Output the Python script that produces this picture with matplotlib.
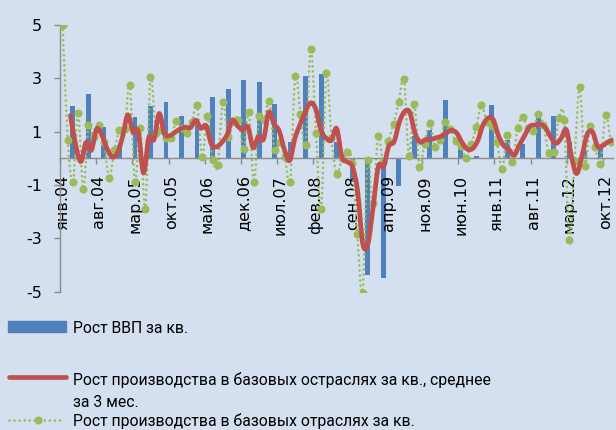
import numpy as np
import matplotlib
matplotlib.use('Agg')
import matplotlib.pyplot as plt
from matplotlib.path import Path
from matplotlib.patches import PathPatch, Rectangle
from matplotlib.lines import Line2D

BG = '#D4DFEF'
BLUE = '#4F81BD'
RED = '#C0504D'
GREEN = '#9BBB59'
AXIS = '#8C8C8C'

# monthly categories: Jan 2004 .. Nov 2012, labels every 7 months
tick_labels = ['янв.04', 'авг.04', 'мар.05', 'окт.05', 'май.06', 'дек.06',
               'июл.07', 'фев.08', 'сен.08', 'апр.09', 'ноя.09', 'июн.10',
               'янв.11', 'авг.11', 'мар.12', 'окт.12']
n_months = 107

# GDP growth, q/q, shown at quarter-end months (Mar-04 .. Sep-12)
gdp_q = [1.95, 2.43, 1.16, 0.5, 1.54, 1.98, 2.1, 1.57, 1.3, 2.3, 2.6, 2.95,
         2.88, 2.02, 0.6, 3.08, 3.15, 0.6, -0.9, -4.37, -4.5, -1.04, 0.85,
         1.06, 2.17, 0.65, 0.07, 2.0, 0.67, 0.53, 1.52, 1.6, 0.6, 0.3, 0.41]

# core sectors output growth, q/q (monthly points)
core = [5.0, 0.7, -0.9, 1.7, -1.15, 1.25, 0.8, 1.25, 0.6, -0.75, 0.3, 1.05,
        1.1, 2.75, -0.9, 1.15, -1.9, 3.05, 0.95, 1.05, 0.75, 0.75, 1.4, 1.15,
        0.95, 1.35, 2.0, 0.05, 1.6, -0.05, -0.25, 2.1, 0.8, 1.4, 1.45, 0.35,
        1.75, -0.9, 1.6, 1.45, 2.15, 0.3, 0.6, 0.05, -0.9, 3.1, 1.65, 0.5,
        4.1, 0.95, -1.9, 3.2, 0.75, -0.6, 0.0, 0.22, -0.16, -2.84, -5.05, -0.07,
        -1.67, 0.85, -0.09, 0.66, 1.3, 2.1, 2.99, 0.09, 2.04, -0.31, 0.55, 1.33,
        0.44, 0.7, 1.35, 1.1, 0.65, 0.47, 0.03, 0.53, 1.16, 2.0, 1.38, 1.23,
        0.6, -0.4, 0.86, -0.12, 1.13, 1.55, 1.13, 1.02, 1.65, 1.26, 0.2, 0.23,
        1.53, 1.45, -3.05, -0.1, 2.68, -0.27, 1.23, 0.44, -0.22, 1.63, 0.62]

# same, 3-month average (starts Mar-04)
core_3m = [1.6, 0.5, -0.12, 0.6, 0.3, 1.1, 0.88, 0.37, 0.05, 0.2, 0.82, 1.63,
           0.98, 1.0, -0.55, 0.77, 0.7, 1.68, 0.92, 0.85, 0.97, 1.1, 1.17, 1.15,
           1.43, 1.13, 1.22, 0.53, 0.43, 0.6, 0.88, 1.43, 1.22, 1.07, 1.18, 0.4,
           0.82, 0.72, 1.73, 1.3, 1.02, 0.32, -0.08, 0.75, 1.28, 1.75, 2.08, 1.85,
           1.05, 0.75, 0.68, 1.12, 0.05, -0.13, -0.3, -1.2, -3.2, -3.2, -1.8, -0.3,
           -0.3, 0.47, 0.62, 1.35, 1.75, 1.73, 0.95, 0.61, 0.7, 0.7, 0.77, 0.82,
           0.95, 1.05, 0.95, 0.6, 0.35, 0.36, 0.65, 1.23, 1.51, 1.45, 0.85, 0.48,
           0.33, 0.11, 0.5, 0.85, 1.2, 1.25, 1.28, 1.15, 0.8, 0.56, 0.75, 1.07,
           0.05, -0.57, 0.1, 0.9, 1.0, 0.45, 0.48, 0.62, 0.7]

legend_labels = ['Рост ВВП за кв.',
                 'Рост производства в базовых остраслях за кв., среднее',
                 'за 3 мес.',
                 'Рост производства в базовых отраслях за кв.']


def smooth_path(x, y):
    # excel-like smoothed line: bezier segments through every point
    pts = np.column_stack([np.asarray(x, float), np.asarray(y, float)])
    n = len(pts)
    verts = [pts[0]]
    codes = [Path.MOVETO]
    for i in range(n - 1):
        p0 = pts[max(i - 1, 0)]
        p1 = pts[i]
        p2 = pts[i + 1]
        p3 = pts[min(i + 2, n - 1)]
        verts += [p1 + (p2 - p0) / 6, p2 - (p3 - p1) / 6, p2]
        codes += [Path.CURVE4] * 3
    return Path(verts, codes)


plt.rcParams['font.family'] = 'DejaVu Sans'
plt.rcParams['axes.unicode_minus'] = False

W, H = 616, 430
fig = plt.figure(figsize=(W / 100, H / 100), dpi=100, facecolor=BG)
ax = fig.add_axes([60 / W, 1 - 291.7 / H, (613.3 - 60) / W, (291.7 - 25) / H])
ax.set_facecolor(BG)

months = np.arange(n_months)
q_months = months[2::3][:len(gdp_q)]
ax.bar(q_months, gdp_q, width=0.95, color=BLUE, zorder=1)

green_path = smooth_path(months, core)
ax.add_patch(PathPatch(green_path, fill=False, edgecolor=GREEN, lw=1.9,
                       linestyle=(0, (0.01, 1.9)), capstyle='round', zorder=2))
ax.plot(months, core, 'o', ms=4.8, color=GREEN, mec=GREEN, zorder=3)

ax.set_xlim(-0.5, n_months - 0.5)
ax.set_ylim(-5, 5)

# red series sits on tick marks of a second category axis
ax2 = ax.twiny()
ax2.set_xlim(0, n_months - 1)
ax2.axis('off')
red_path = smooth_path(months[2:2 + len(core_3m)], core_3m)
ax2.add_patch(PathPatch(red_path, fill=False, edgecolor=RED, lw=3.4,
                        capstyle='round', joinstyle='round'))

for s in ['top', 'right']:
    ax.spines[s].set_visible(False)
ax.spines['bottom'].set_position(('data', 0))
for s in ['left', 'bottom']:
    ax.spines[s].set_color(AXIS)
    ax.spines[s].set_linewidth(1.0)

ax.set_yticks([-5, -3, -1, 1, 3, 5])
ax.tick_params(axis='y', direction='out', length=4, width=1, color=AXIS,
               pad=9, labelsize=11.5)
ax.set_xticks(np.arange(-0.5, n_months - 1, 7))
ax.set_xticklabels([])
ax.set_xticks(np.arange(0, n_months, 7), minor=True)
ax.set_xticklabels(tick_labels, minor=True, rotation=90)
ax.tick_params(axis='x', which='major', direction='out', length=4, width=1,
               color=AXIS)
ax.tick_params(axis='x', which='minor', length=0, pad=12, labelsize=11.5)


def fx(x):
    return x / W


def fy(y):
    return 1 - y / H


# legend, drawn by hand
lfont = dict(family='Roboto', size=11.3, color='black', va='baseline')
fig.add_artist(Rectangle((fx(8), fy(332)), fx(58), 11 / H, color=BLUE,
                         transform=fig.transFigure))
fig.text(fx(73), fy(333), legend_labels[0], **lfont)

fig.add_artist(Line2D([fx(9), fx(66)], [fy(377), fy(377)], color=RED, lw=3.4,
                      solid_capstyle='round', transform=fig.transFigure))
fig.text(fx(73), fy(385), legend_labels[1], **lfont)
fig.text(fx(73), fy(407), legend_labels[2], **lfont)

fig.add_artist(Line2D([fx(9), fx(62)], [fy(420), fy(420)], color=GREEN, lw=1.9,
                      linestyle=(0, (0.01, 1.9)), dash_capstyle='round',
                      transform=fig.transFigure))
fig.add_artist(Line2D([fx(38)], [fy(420)], marker='o', ms=4.8, color=GREEN,
                      transform=fig.transFigure))
fig.text(fx(73), fy(426), legend_labels[3], **lfont)

fig.savefig('out.png', dpi=100, facecolor=BG)
